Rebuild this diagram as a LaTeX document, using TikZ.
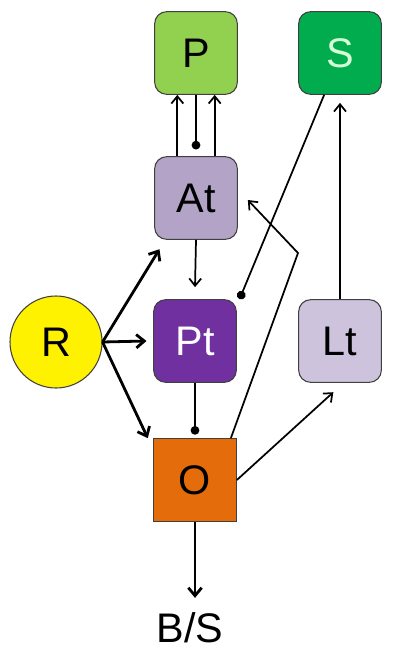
\documentclass[tikz,border=0pt]{standalone}
\usepackage{fontspec}
\setmainfont{Liberation Sans}
\usetikzlibrary{arrows.meta}

\definecolor{pgreen}{RGB}{146,208,80}
\definecolor{sgreen}{RGB}{0,172,78}
\definecolor{stext}{RGB}{215,255,215}
\definecolor{atlav}{RGB}{179,163,199}
\definecolor{ptpurple}{RGB}{112,48,160}
\definecolor{ltlav}{RGB}{205,195,220}
\definecolor{oorange}{RGB}{228,108,10}

\begin{document}
\begin{tikzpicture}[x=0.75pt,y=-0.75pt,
    box/.style={draw=black!75, line width=0.8pt, rounded corners=9pt,
        minimum width=62pt, minimum height=62pt, inner sep=0pt,
        font=\fontsize{31}{32}\selectfont},
    link/.style={line width=1.3pt, -{Straight Barb[length=5.5pt,width=9pt]}},
    boldlink/.style={line width=2.1pt, -{Straight Barb[length=6pt,width=10pt]}},
    dotlink/.style={line width=1.3pt, -{Circle[length=6.5pt]}}]
    \useasboundingbox (0,0) rectangle (405,653);

    % nodes
    \node[box, fill=pgreen] (P) at (196,53) {P};
    \node[box, fill=sgreen, text=stext] (S) at (340,53) {S};
    \node[box, fill=atlav] (At) at (196,198) {At};
    \node[box, fill=ptpurple, text=white] (Pt) at (195,341) {Pt};
    \node[box, fill=ltlav] (Lt) at (340,341) {Lt};
    \node[circle, draw=black!75, line width=0.8pt, fill=yellow,
        minimum size=69pt, inner sep=0pt,
        font=\fontsize{31}{32}\selectfont] (R) at (56,342) {R};
    \node[box, rounded corners=0pt, fill=oorange] (O) at (195,480) {O};
    \node[font=\fontsize{31}{32}\selectfont, inner sep=0pt] (BS) at (190,628) {B/S};
    \coordinate (bend) at (298,253);

    % connectors
    \draw[link] ([xshift=-14pt]At.north) -- ([xshift=-14pt]P.south);
    \draw[link] ([xshift=14pt]At.north) -- ([xshift=14pt]P.south);
    \draw[dotlink] (P.south) -- ([yshift=5pt]At.north);
    \draw[link] (At.south) -- ([yshift=9pt]Pt.north);
    \draw[dotlink] ([xshift=19.5pt]S.south west) -- ([xshift=2pt]Pt.north east);
    \draw[link] ([xshift=-4.5pt]O.north east) -- (bend) -- ([xshift=7.5pt,yshift=-1.5pt]At.east);
    \draw[link] (Lt.north) -- ([yshift=-6pt]S.south);
    \draw[link] (O.east) -- ([xshift=-5pt,yshift=-7pt]Lt.south);
    \draw[dotlink] (Pt.south) -- ([yshift=2.6pt]O.north);
    \draw[boldlink] (R.east) -- ([xshift=4pt,yshift=-7pt]At.south west);
    \draw[boldlink] (R.east) -- ([xshift=-5pt]Pt.west);
    \draw[boldlink] (R.east) -- ([xshift=-4pt]O.north west);
    \draw[boldlink] (O.south) -- ([yshift=11pt]O.south |- BS.north);
\end{tikzpicture}
\end{document}
